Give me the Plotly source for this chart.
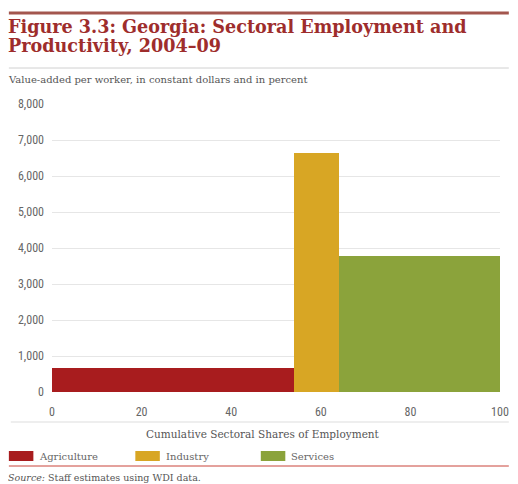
import plotly.graph_objects as go

# ---- data ----
sectors = ["Agriculture", "Industry", "Services"]
employment_share = [54, 10, 36]          # percent of employment
value_added = [660, 6640, 3790]          # value-added per worker, constant dollars
colors = ["#a81c1e", "#d8a624", "#8ba33b"]
y_ticks = [0, 1000, 2000, 3000, 4000, 5000, 6000, 7000, 8000]
x_ticks = [0, 20, 40, 60, 80, 100]

# page has an 8px body margin, so the figure is drawn 8px right/down
OFF = 8
W, H = 518 - OFF, 484 - OFF
L, R, T, B = 52 - OFF, 9, 104 - OFF, 92
PW, PH = W - L - R, H - T - B

def px(xp):  # reference screen pixel -> paper
    return (xp - OFF - L) / PW

def py(yp):
    return (H - B - (yp - OFF)) / PH

fig = go.Figure()
left = 0
for name, share, val, col in zip(sectors, employment_share, value_added, colors):
    fig.add_trace(go.Bar(
        x=[left + share / 2], y=[val], width=[share], name=name,
        marker=dict(color=col, line=dict(width=0)), showlegend=False,
        hovertemplate=name + ": %{y:,}<extra></extra>"))
    left += share

serif = "DejaVu Serif"
sans = "Liberation Sans Narrow, Roboto Condensed, Liberation Sans, sans-serif"

shapes = [
    dict(type="line", xref="paper", yref="paper", x0=px(8), x1=px(518), y0=py(13), y1=py(13),
         line=dict(color="#a3564e", width=3)),
    dict(type="line", xref="paper", yref="paper", x0=px(8), x1=px(518), y0=py(68), y1=py(68),
         line=dict(color="#d0d0d0", width=1)),
    dict(type="line", xref="paper", yref="paper", x0=px(10), x1=px(518), y0=py(422), y1=py(422),
         line=dict(color="#dddddd", width=1)),
    dict(type="line", xref="paper", yref="paper", x0=px(8), x1=px(518), y0=py(466), y1=py(466),
         line=dict(color="#c9443a", width=1)),
]
title_font = dict(family=serif, size=17.6, color="#9e2d2c")
annotations = [
    dict(text="<b>Figure 3.3: Georgia: Sectoral Employment and</b>",
         xref="paper", yref="paper", x=px(5), y=py(27), xanchor="left", yanchor="middle",
         showarrow=False, font=title_font),
    dict(text="<b>Productivity, 2004–09</b>",
         xref="paper", yref="paper", x=px(5), y=py(45.5), xanchor="left", yanchor="middle",
         showarrow=False, font=title_font),
    dict(text="Value-added per worker, in constant dollars and in percent",
         xref="paper", yref="paper", x=px(5), y=py(79), xanchor="left", yanchor="middle",
         showarrow=False, font=dict(family=serif, size=10, color="#555555")),
    dict(text="Cumulative Sectoral Shares of Employment",
         xref="paper", yref="paper", x=px(267), y=py(434), xanchor="center", yanchor="middle",
         showarrow=False, font=dict(family=serif, size=10.5, color="#555555")),
    dict(text="<i>Source:</i> Staff estimates using WDI data.",
         xref="paper", yref="paper", x=px(5), y=py(477), xanchor="left", yanchor="middle",
         showarrow=False, font=dict(family=serif, size=9.5, color="#555555")),
]

legend_x = [8, 137, 265]
for name, col, lx in zip(sectors, colors, legend_x):
    shapes.append(dict(type="rect", xref="paper", yref="paper", x0=px(lx), x1=px(lx + 25),
                       y0=py(461), y1=py(451), fillcolor=col, line=dict(width=0)))
    annotations.append(dict(text=name, xref="paper", yref="paper", x=px(lx + 29), y=py(456),
                            xanchor="left", yanchor="middle", showarrow=False,
                            font=dict(family=serif, size=10, color="#666666")))

fig.update_layout(
    width=W, height=H, margin=dict(l=L, r=R, t=T, b=B),
    paper_bgcolor="white", plot_bgcolor="white",
    bargap=0, showlegend=False,
    shapes=shapes, annotations=annotations,
    xaxis=dict(range=[0, 100], tickvals=x_ticks, ticktext=[str(v) for v in x_ticks],
               showgrid=False, zeroline=False, showline=False, ticks="",
               ticklabelstandoff=11,
               tickfont=dict(family=sans, size=12, color="#666666")),
    yaxis=dict(range=[0, 8000], tickvals=y_ticks, tickformat=",",
               showgrid=True, gridcolor="#e6e6e6", gridwidth=1,
               zeroline=False, showline=False, ticks="", ticklabelstandoff=7,
               tickfont=dict(family=sans, size=12, color="#666666")),
)

fig.write_html("out.html")
